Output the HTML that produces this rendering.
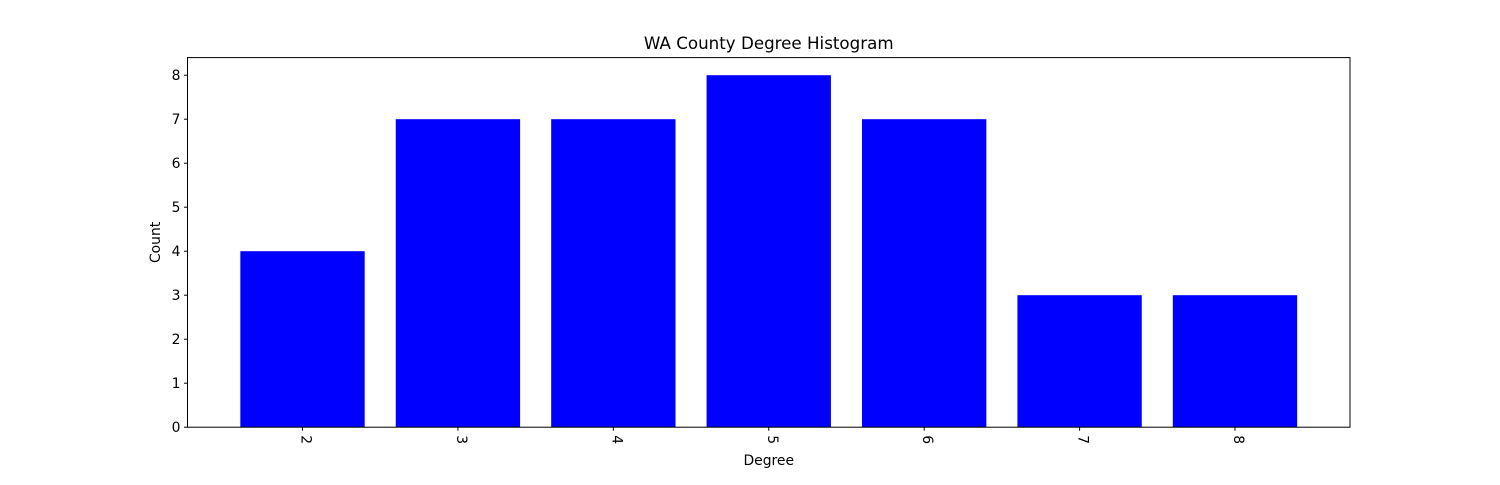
<!DOCTYPE html>
<html><head><meta charset="utf-8"><style>
body{margin:0;background:#fff}
svg text{font-family:"DejaVu Sans","Liberation Sans",sans-serif;fill:#000}
</style></head><body>
<svg id="chart" width="1500" height="480" xmlns="http://www.w3.org/2000/svg">
<rect width="1500" height="480" fill="#fff"/>
<text x="768.75" y="49" font-size="16.7" text-anchor="middle">WA County Degree Histogram</text>
<g id="bars"></g>
<g id="yticks"></g>
<g id="xticks"></g>
<rect x="187.5" y="57.6" width="1162.5" height="369.6" fill="none" stroke="#000" stroke-width="1"/>
<text x="768.75" y="465" font-size="13.9" text-anchor="middle">Degree</text>
<text transform="translate(160,242.4) rotate(-90)" font-size="13.9" text-anchor="middle">Count</text>
</svg>
<script>
const categories=[2,3,4,5,6,7,8];
const counts=[4,7,7,8,7,3,3];
const yTicks=[0,1,2,3,4,5,6,7,8];
const NS="http://www.w3.org/2000/svg";
const L=187.5,R=1350,T=57.6,B=427.2;
const xMin=Math.min(...categories)-0.4,xMax=Math.max(...categories)+0.4,m=(xMax-xMin)*0.05;
const x0=xMin-m,x1=xMax+m;
const yMax=Math.max(...counts)*1.05;
const sx=v=>L+(v-x0)/(x1-x0)*(R-L);
const sy=v=>B-v/yMax*(B-T);
const bars=document.getElementById('bars');
categories.forEach((c,i)=>{
 const r=document.createElementNS(NS,'rect');
 r.setAttribute('x',sx(c-0.4));r.setAttribute('width',sx(c+0.4)-sx(c-0.4));
 r.setAttribute('y',sy(counts[i]));r.setAttribute('height',B-sy(counts[i]));
 r.setAttribute('fill','#0000ff');
 
 
 bars.appendChild(r);
});
const yt=document.getElementById('yticks');
yTicks.forEach(v=>{
 const y=sy(v);
 const l=document.createElementNS(NS,'line');
 l.setAttribute('x1',L-3.5);l.setAttribute('x2',L);l.setAttribute('y1',y);l.setAttribute('y2',y);l.setAttribute('stroke','#000');
 
 
 yt.appendChild(l);
 const t=document.createElementNS(NS,'text');
 t.setAttribute('x',L-7);t.setAttribute('y',y+5);t.setAttribute('font-size','13.9');t.setAttribute('text-anchor','end');
 t.textContent=v;
 
 
 yt.appendChild(t);
});
const xt=document.getElementById('xticks');
categories.forEach(c=>{
 const x=sx(c);
 const l=document.createElementNS(NS,'line');
 l.setAttribute('x1',x);l.setAttribute('x2',x);l.setAttribute('y1',B);l.setAttribute('y2',B+3.5);l.setAttribute('stroke','#000');
 
 
 xt.appendChild(l);
 const t=document.createElementNS(NS,'text');
 t.setAttribute('transform','translate('+(x-1)+','+(B+8)+') rotate(90)');
 t.setAttribute('font-size','13.9');
 t.textContent=c;
 
 
 xt.appendChild(t);
});
</script>
</body></html>
